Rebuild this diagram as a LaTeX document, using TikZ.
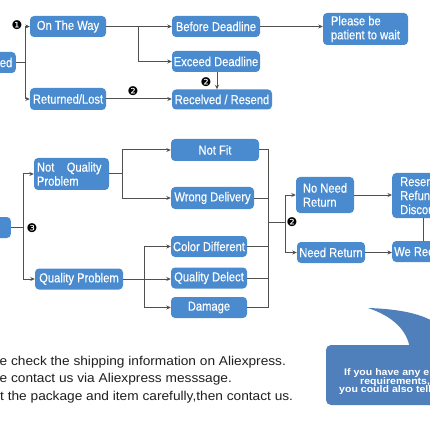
\documentclass[tikz,border=0pt]{standalone}
\usepackage{fontspec}
\setmainfont{Liberation Sans}
\newfontfamily\dejavu{DejaVu Sans}
\newfontfamily\boxfont[FakeStretch=0.86,FakeBold=0.3]{Liberation Sans}
\newfontfamily\notefont[FakeStretch=1.07]{Liberation Sans}
\newfontfamily\callfont[FakeStretch=1.1]{Liberation Sans}
\usetikzlibrary{arrows.meta}
\definecolor{boxblue}{HTML}{4A8BCF}
\definecolor{callblue}{HTML}{4F80BC}
\definecolor{linegray}{HTML}{505050}
\tikzset{
 box/.style={fill=boxblue, rounded corners=4pt, text=white, font=\boxfont\fontsize{13}{14}\selectfont, inner sep=0pt, anchor=center},
 conn/.style={draw=linegray, line width=1pt},
 arr/.style={conn, -{Stealth[length=4.5pt,width=4pt]}},
 bul/.style={font=\dejavu\fontsize{12}{12}\selectfont, inner sep=0pt},
 note/.style={font=\notefont\fontsize{12.8}{16}\selectfont, text=black!88, anchor=base west, inner sep=0pt},
 calltxt/.style={font=\callfont\bfseries\fontsize{9.6}{9}\selectfont, text=white, anchor=base west, inner sep=0pt},
}
\begin{document}
\begin{tikzpicture}[x=1pt,y=-1pt]
\useasboundingbox (0,0) rectangle (430,430);
\fill[white] (0,0) rectangle (430,430);
\clip (0,0) rectangle (430,430);
% ---- top section
\node[box, anchor=east, minimum height=21pt, inner xsep=3.5pt] (rec0) at (16,62.5) {Received};
\node[box, minimum width=76pt, minimum height=21pt] (otw) at (68,26.5) {On The Way};
\node[box, minimum width=76pt, minimum height=22pt] (ret) at (68,99) {Returned/Lost};
\node[box, minimum width=88pt, minimum height=21pt] (bd) at (216,26.5) {Before Deadline};
\node[box, minimum width=88pt, minimum height=21pt] (ed) at (216,61.5) {Exceed Deadline};
\node[box, minimum width=85pt, minimum height=32pt, align=left] (pat) at (365.5,29) {Please be\\patient to wait};
\node[box, minimum width=100pt, minimum height=20pt] (rr) at (222,99.5) {Recelved / Resend};
\coordinate (j1) at (25,62.5);
\coordinate (j2) at (138,26.5);
\draw[conn] (rec0.east) -- (j1);
\draw[arr] (j1) |- (otw.west);
\draw[arr] (j1) |- (ret.west);
\draw[arr] (otw.east) -- (bd.west);
\draw[arr] (j2) |- (ed.west);
\draw[arr] (bd.east) -- (bd.east -| pat.west);
\draw[arr] (ret.east) -- (ret.east -| rr.west);
\draw[arr] ([xshift=1pt]ed.south) -- ([xshift=1pt]ed.south |- rr.north);
\node[bul] (b1) at (17,25) {❶};
\node[bul] (b2) at (133,91) {❷};
\node[bul] (b3) at (206,82) {❷};
% ---- middle section
\node[box, anchor=east, minimum height=21pt, minimum width=40pt] (rec1) at (11,227.5) {};
\node[box, minimum height=32pt, text width=69pt, inner xsep=3pt, align=left] (nqp) at (71.5,174) {Not\hspace{8pt} Quality\\Problem};
\node[box, minimum width=88pt, minimum height=21pt] (qp) at (79,279) {Quality Problem};
\node[box, minimum width=88pt, minimum height=22pt] (nf) at (215,150) {Not Fit};
\node[box, minimum width=83pt, minimum height=22pt] (wd) at (212.5,198) {Wrong Delivery};
\node[box, minimum width=76pt, minimum height=21pt] (cd) at (209,246.5) {Color Different};
\node[box, minimum width=76pt, minimum height=21pt] (qd) at (209,278) {Quality Delect};
\node[box, minimum width=76pt, minimum height=21pt] (dm) at (209,307.5) {Damage};
\node[box, minimum width=58pt, minimum height=36pt, align=left] (nnr) at (325,195) {No Need\\Return};
\node[box, minimum width=68pt, minimum height=21pt] (nr) at (331,252.5) {Need Return};
\node[box, anchor=west, minimum height=45pt, text width=52pt, inner xsep=8pt, align=left] (rs) at (392,195.5) {Resend\\Refund\\Discount};
\node[box, anchor=west, minimum height=21pt, minimum width=70pt, inner xsep=2pt] (wr) at (392,251.5) {We Received};
\coordinate (j3) at (23,227.5);
\coordinate (j4) at (122,174);
\coordinate (j5) at (144,279);
\coordinate (k) at (268,222);
\coordinate (j7) at (285,222);
\draw[conn] (rec1.east) -- (j3);
\draw[arr] (j3) |- (nqp.west);
\draw[arr] (j3) |- (qp.west);
\draw[conn] (nqp.east) -- (j4);
\draw[arr] (j4) |- (nf.west);
\draw[arr] (j4) |- (wd.west);
\draw[arr] (qp.east) -- (qp.east -| qd.west);
\draw[arr] (j5) |- (cd.west);
\draw[arr] (j5) |- (dm.west);
\draw[conn] (nf.east) -| (k);
\draw[conn] (dm.east) -| (k);
\draw[conn] (wd.east) -- (wd.east -| k);
\draw[conn] (cd.east) -- (cd.east -| k);
\draw[conn] (qd.east) -- (qd.east -| k);
\draw[conn] (k) -- (j7);
\draw[arr] (j7) |- (nnr.west);
\draw[arr] (j7) |- (nr.west);
\draw[arr] (nnr.east) -- (nnr.east -| rs.west);
\draw[arr] (nr.east) -- (nr.east -| wr.west);
\draw[conn] (423,218) -- (423,241);
\node[bul] (b4) at (32,228) {❸};
\node[bul] (b5) at (292,222) {❷};
% ---- notes
\node[note] (n1) at (-0.5,365.7) {e check the shipping information on Aliexpress.};
\node[note] (n2) at (-0.5,382.7) {e contact us via Aliexpress messsage.};
\node[note] (n3) at (0,400) {t the package and item carefully,then contact us.};
% ---- callout
\fill[callblue] (368,308) .. controls (400,309) and (425,314) .. (440,326) -- (440,350) -- (410,350) .. controls (408,330) and (392,316) .. (368,308) -- cycle;
\fill[callblue, rounded corners=5pt] (326,345) rectangle (450,405);
\node[calltxt] (c1) at (344,375.5) {If you have any else};
\node[calltxt] (c2) at (360,384) {requirements,};
\node[calltxt] (c3) at (339,392.5) {you could also tell us};
\end{tikzpicture}
\end{document}
